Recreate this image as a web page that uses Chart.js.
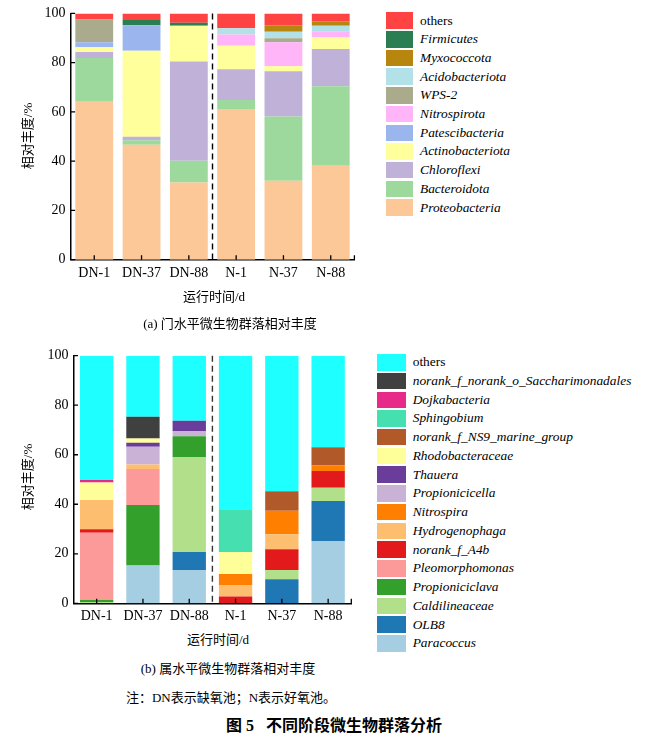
<!DOCTYPE html>
<html>
<head>
<meta charset="utf-8">
<script src="https://cdn.jsdelivr.net/npm/chart.js@4.4.0/dist/chart.umd.min.js"></script>
<style>
  body { margin: 0; background: #fff; }
  #page { position: relative; width: 651px; height: 739px; overflow: hidden; font-family: 'Liberation Serif', 'Noto Sans CJK SC', serif; color: #000; }
  canvas { position: absolute; left: 0; }
  .t { position: absolute; white-space: nowrap; line-height: 1; transform: translate(-50%, -50%); font-family: 'Liberation Serif', 'Noto Sans CJK SC', serif; }
  .rot { transform: translate(-50%, -50%) rotate(-90deg); }
  .lg { position: absolute; left: 0; top: 0; }
  .lg .box { position: absolute; }
  .lg .lab { position: absolute; font-family: 'Liberation Serif', serif; font-size: 13.4px; line-height: 1; transform: translateY(-50%); white-space: nowrap; font-style: italic; }
  .lg .lab.plain { font-style: normal; }
</style>
</head>
<body>
<div id="page">
  <canvas id="phylumChart" width="370" height="290" style="top:0"></canvas>
  <canvas id="genusChart" width="370" height="290" style="top:340px"></canvas>
  <div id="phylumLegend" class="lg"></div>
  <div id="genusLegend" class="lg"></div>

  <div class="t rot" style="left:27px; top:136px; font-size:13px;">相对丰度/%</div>
  <div class="t" style="left:214px; top:296px; font-size:13px;">运行时间/d</div>
  <div class="t" style="left:230px; top:323px; font-size:13px;">(a) 门水平微生物群落相对丰度</div>

  <div class="t rot" style="left:27px; top:477px; font-size:13px;">相对丰度/%</div>
  <div class="t" style="left:218px; top:639px; font-size:13px;">运行时间/d</div>
  <div class="t" style="left:228px; top:668px; font-size:13px;">(b) 属水平微生物群落相对丰度</div>
  <div class="t" style="left:231px; top:697px; font-size:13px;">注：DN表示缺氧池；N表示好氧池。</div>
  <div class="t" style="left:334px; top:726px; font-size:16px; font-weight:bold;">图 5&nbsp;&nbsp;&nbsp;不同阶段微生物群落分析</div>
</div>
<script>
const categories = ['DN-1', 'DN-37', 'DN-88', 'N-1', 'N-37', 'N-88'];
const yTicks = [0, 20, 40, 60, 80, 100];

// (a) phylum level, bottom to top
const proteobacteria   = [64.1, 46.7, 31.3, 61.2, 32.1, 38.1];
const bacteroidota     = [17.8, 1.8, 8.9, 3.6, 26.0, 32.3];
const chloroflexi      = [2.4, 1.4, 40.3, 12.5, 18.4, 15.1];
const actinobacteriota = [2.0, 34.9, 14.5, 9.6, 2.0, 4.7];
const patescibacteria  = [2.0, 10.4, 0, 0, 0, 0];
const nitrospirota     = [0, 0, 0, 4.5, 9.8, 2.3];
const wps2             = [9.2, 0, 0, 0, 1.6, 0];
const acidobacteriota  = [0, 0, 0, 2.6, 2.6, 2.5];
const myxococcota      = [0, 0, 0, 0, 2.7, 1.8];
const firmicutes       = [0, 2.1, 1.2, 0, 0, 0];
const phylumOthers     = [2.5, 2.7, 3.8, 6.0, 4.8, 3.2];

// (b) genus level, bottom to top
const paracoccus        = [0, 15.3, 13.4, 0, 0, 25.2];
const olb8              = [0, 0, 7.3, 0, 9.7, 16.1];
const caldilineaceae    = [0.5, 0, 38.4, 0, 3.7, 5.4];
const propioniciclava   = [0.8, 24.4, 8.4, 0, 0, 0];
const pleomorphomonas   = [27.2, 14.5, 0, 0, 0, 0];
const norankA4b         = [1.4, 0, 0, 2.7, 8.4, 6.7];
const hydrogenophaga    = [11.8, 1.9, 0, 4.7, 6.1, 0];
const nitrospira        = [0, 0, 0, 4.4, 9.5, 2.4];
const propionicicella   = [0, 7.1, 2.1, 0, 0, 0];
const thauera           = [0, 1.6, 4.1, 0, 0, 0];
const rhodobacteraceae  = [7.1, 1.8, 0, 8.9, 0, 0];
const norankNS9         = [0, 0, 0, 0, 7.9, 7.2];
const sphingobium       = [0, 0, 0, 17.0, 0, 0];
const dojkabacteria     = [1.0, 0, 0, 0, 0, 0];
const saccharimonadales = [0, 8.7, 0, 0, 0, 0];
const genusOthers       = [50.2, 24.7, 26.3, 62.3, 54.7, 37.0];

const phylumSeries = [
  ['Proteobacteria', proteobacteria, '#fdc898'],
  ['Bacteroidota', bacteroidota, '#9dd89d'],
  ['Chloroflexi', chloroflexi, '#c0b1d8'],
  ['Actinobacteriota', actinobacteriota, '#ffff9c'],
  ['Patescibacteria', patescibacteria, '#9bb6ef'],
  ['Nitrospirota', nitrospirota, '#ffb5f8'],
  ['WPS-2', wps2, '#aaab8d'],
  ['Acidobacteriota', acidobacteriota, '#b2e1e8'],
  ['Myxococcota', myxococcota, '#b7860f'],
  ['Firmicutes', firmicutes, '#2b7d52'],
  ['others', phylumOthers, '#ff4343']
];

const genusSeries = [
  ['Paracoccus', paracoccus, '#a6cee3'],
  ['OLB8', olb8, '#1f78b4'],
  ['Caldilineaceae', caldilineaceae, '#b2df8a'],
  ['Propioniciclava', propioniciclava, '#33a02c'],
  ['Pleomorphomonas', pleomorphomonas, '#fb9a99'],
  ['norank_f_A4b', norankA4b, '#e31a1c'],
  ['Hydrogenophaga', hydrogenophaga, '#fdbf6f'],
  ['Nitrospira', nitrospira, '#ff7f00'],
  ['Propionicicella', propionicicella, '#cab2d6'],
  ['Thauera', thauera, '#6a3d9a'],
  ['Rhodobacteraceae', rhodobacteraceae, '#ffff99'],
  ['norank_f_NS9_marine_group', norankNS9, '#b15928'],
  ['Sphingobium', sphingobium, '#45dfb0'],
  ['Dojkabacteria', dojkabacteria, '#e7298a'],
  ['norank_f_norank_o_Saccharimonadales', saccharimonadales, '#404040'],
  ['others', genusOthers, '#1effff']
];

// inward tick marks + dashed divider between DN and N groups
const axisMarks = {
  id: 'axisMarks',
  afterDraw(chart, args, opts) {
    const { ctx, chartArea: a, scales: { x, y } } = chart;
    ctx.save();
    ctx.strokeStyle = '#000';
    ctx.lineWidth = 1.3;
    ctx.beginPath();
    yTicks.forEach(v => {
      const py = y.getPixelForValue(v);
      ctx.moveTo(a.left, py);
      ctx.lineTo(a.left + 4.5, py);
    });
    categories.forEach((c, i) => {
      const px = x.getPixelForTick(i);
      ctx.moveTo(px, a.bottom);
      ctx.lineTo(px, a.bottom - 4.5);
    });
    ctx.moveTo(a.right, a.bottom);
    ctx.lineTo(a.right, a.bottom - 4.5);
    ctx.stroke();

    const dx = (x.getPixelForTick(2) + x.getPixelForTick(3)) / 2;
    ctx.strokeStyle = opts.dashColor;
    ctx.lineWidth = 1.4;
    ctx.setLineDash([6, 4]);
    ctx.beginPath();
    ctx.moveTo(dx, y.getPixelForValue(100));
    ctx.lineTo(dx, a.bottom);
    ctx.stroke();
    ctx.restore();
  }
};

function makeChart(canvasId, series, box, barPct, dashColor) {
  const H = 290;
  return new Chart(document.getElementById(canvasId), {
    type: 'bar',
    data: {
      labels: categories,
      datasets: series.map(s => ({
        label: s[0],
        data: s[1],
        backgroundColor: s[2],
        borderWidth: 0,
        barPercentage: barPct,
        categoryPercentage: 1
      }))
    },
    options: {
      responsive: false,
      animation: false,
      devicePixelRatio: 1,
      layout: { padding: { left: 0, top: box.top, right: 370 - box.right, bottom: 0 } },
      plugins: {
        legend: { display: false },
        tooltip: { enabled: false },
        axisMarks: { dashColor: dashColor }
      },
      scales: {
        x: {
          stacked: true,
          grid: { display: false, drawTicks: false },
          border: { display: true, color: '#000', width: 1.5 },
          ticks: { color: '#000', padding: 5, font: { family: 'Liberation Serif', size: 14 } },
          afterFit: s => { s.height = H - box.bottom; }
        },
        y: {
          stacked: true,
          min: 0,
          max: 100,
          grid: { display: false, drawTicks: false },
          border: { display: true, color: '#000', width: 1.5 },
          ticks: { stepSize: 20, color: '#000', padding: 5, font: { family: 'Liberation Serif', size: 14 } },
          afterFit: s => { s.width = box.left; }
        }
      }
    },
    plugins: [axisMarks]
  });
}

function buildLegend(elId, series, o) {
  const el = document.getElementById(elId);
  const rows = series.slice().reverse();
  rows.forEach((s, i) => {
    const cy = o.firstY + i * o.step;
    const b = document.createElement('div');
    b.className = 'box';
    b.style.cssText = `left:${o.boxX}px; top:${cy - o.boxH / 2}px; width:${o.boxW}px; height:${o.boxH}px; background:${s[2]};`;
    const t = document.createElement('div');
    t.className = 'lab' + (s[0] === 'others' ? ' plain' : '');
    t.style.left = o.textX + 'px';
    t.style.top = cy + 'px';
    t.textContent = s[0];
    el.appendChild(b);
    el.appendChild(t);
  });
}

makeChart('phylumChart', phylumSeries, { left: 70.6, right: 354.4, top: 11.7, bottom: 259.7 }, 0.80, '#000');
makeChart('genusChart', genusSeries, { left: 73.5, right: 351.3, top: 15.7, bottom: 263.3 }, 0.72, '#333');

buildLegend('phylumLegend', phylumSeries, { boxX: 386, boxW: 27, boxH: 16.5, firstY: 20.7, step: 18.68, textX: 420 });
buildLegend('genusLegend', genusSeries, { boxX: 377.3, boxW: 28.7, boxH: 16.5, firstY: 362.3, step: 18.73, textX: 412.7 });
</script>
</body>
</html>
